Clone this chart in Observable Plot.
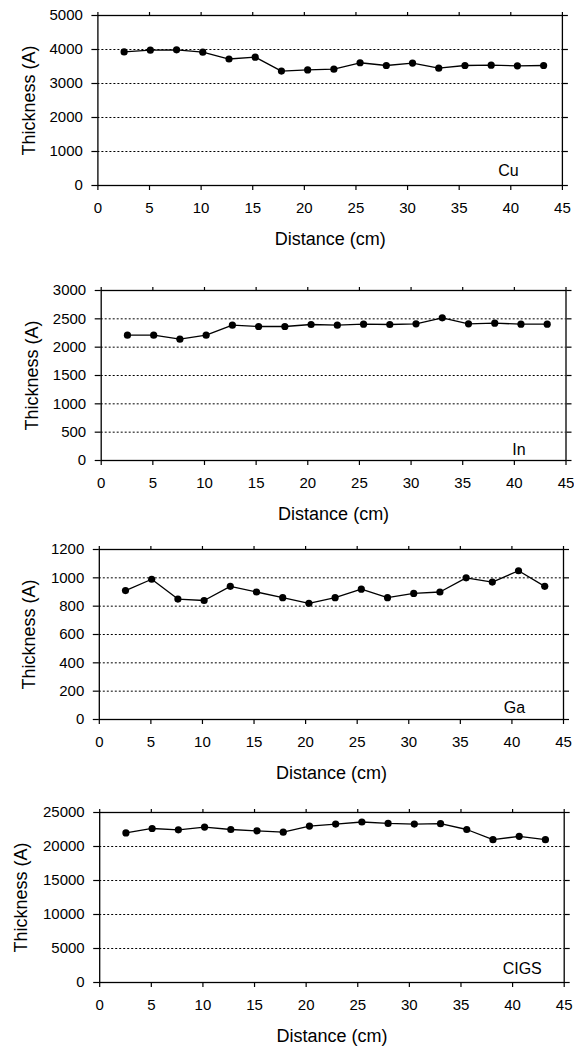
<!DOCTYPE html>
<html>
<head>
<meta charset="utf-8">
<script src="https://cdn.jsdelivr.net/npm/d3@7"></script>
<script src="https://cdn.jsdelivr.net/npm/@observablehq/plot@0.6"></script>
<style>
  html, body { margin: 0; padding: 0; background: #fff; }
  #wrap { position: relative; width: 574px; height: 1047px; }
  #wrap > div, #wrap > svg { position: absolute; left: 0; }
</style>
</head>
<body>
<div id="wrap"></div>
<script>
// Distance along substrate (cm)
const distance = [2.54, 5.08, 7.62, 10.16, 12.70, 15.24, 17.78, 20.32, 22.86, 25.40, 27.94, 30.48, 33.02, 35.56, 38.10, 40.64, 43.18];

// Thickness (A) series
const cu   = [3930, 3980, 3990, 3920, 3720, 3775, 3365, 3400, 3420, 3610, 3530, 3600, 3450, 3530, 3540, 3520, 3530];
const inn  = [2212, 2212, 2141, 2212, 2388, 2365, 2365, 2400, 2388, 2406, 2400, 2412, 2518, 2412, 2424, 2406, 2406];
const ga   = [910, 990, 850, 840, 940, 900, 860, 820, 860, 920, 860, 890, 900, 1000, 970, 1050, 940];
const cigs = [22000, 22650, 22450, 22850, 22500, 22300, 22100, 23000, 23300, 23600, 23400, 23300, 23350, 22500, 21000, 21500, 21000];

// Tick labels
const xTicks = [0, 5, 10, 15, 20, 25, 30, 35, 40, 45];
const cuTicks = [0, 1000, 2000, 3000, 4000, 5000];
const inTicks = [0, 500, 1000, 1500, 2000, 2500, 3000];
const gaTicks = [0, 200, 400, 600, 800, 1000, 1200];
const cigsTicks = [0, 5000, 10000, 15000, 20000, 25000];

const panelNames = ["Cu", "In", "Ga", "CIGS"];
const xTitle = "Distance (cm)";
const yTitle = "Thickness (A)";

const panels = [
  {name: panelNames[0], values: cu,   ticks: cuTicks,   top: 0,     left: 97.4,  right: 561.9, labDx: -54, labDy: -15, yTitleOff: 69},
  {name: panelNames[1], values: inn,  ticks: inTicks,   top: 275,   left: 100.7, right: 565.5, labDx: -47, labDy: -11, yTitleOff: 69},
  {name: panelNames[2], values: ga,   ticks: gaTicks,   top: 534.3, left: 98.8,  right: 563.0, labDx: -49, labDy: -12, yTitleOff: 70},
  {name: panelNames[3], values: cigs, ticks: cigsTicks, top: 797.3, left: 99.2,  right: 563.7, labDx: -42, labDy: -14, yTitleOff: 78}
];

const font = "'Liberation Sans', Arial, Helvetica, sans-serif";
const wrap = document.getElementById("wrap");

for (const p of panels) {
  const data = distance.map((d, i) => ({x: d, y: p.values[i]}));
  const yMax = p.ticks[p.ticks.length - 1];
  const chart = Plot.plot({
    width: 574,
    height: 250,
    marginTop: 15,
    marginBottom: 65,
    marginLeft: p.left,
    marginRight: 574 - p.right,
    style: {fontFamily: font, background: "white", color: "black", overflow: "visible"},
    x: {domain: [0, 45]},
    y: {domain: [0, yMax]},
    marks: [
      Plot.gridY(p.ticks.slice(1, -1), {stroke: "black", strokeOpacity: 1, strokeWidth: 1, strokeDasharray: "2,2"}),
      Plot.frame({stroke: "black", strokeWidth: 1.3}),
      Plot.axisX({anchor: "bottom", ticks: xTicks, tickSize: 5, tickPadding: 12, fontSize: 15, label: null, strokeWidth: 1.2}),
      Plot.axisX({anchor: "top", ticks: xTicks, tickSize: 4, fill: "none", label: null, strokeWidth: 1.2}),
      Plot.axisY({anchor: "left", ticks: p.ticks, tickSize: 6, tickPadding: 9, fontSize: 15, label: null, tickFormat: d => String(d), strokeWidth: 1.2}),
      Plot.axisY({anchor: "right", ticks: p.ticks, tickSize: 5, fill: "none", label: null, strokeWidth: 1.2}),
      Plot.line(data, {x: "x", y: "y", stroke: "black", strokeWidth: 1.3}),
      Plot.dot(data, {x: "x", y: "y", r: 3.6, fill: "black", stroke: "none"}),
      Plot.text([p.name], {frameAnchor: "bottom-right", dx: p.labDx, dy: p.labDy, textAnchor: "middle", lineAnchor: "middle", fontSize: 16, fill: "black"}),
      Plot.text([xTitle], {frameAnchor: "bottom", dy: 54, lineAnchor: "middle", fontSize: 18, fill: "black"}),
      Plot.text([yTitle], {frameAnchor: "left", dx: -p.yTitleOff, rotate: -90, lineAnchor: "middle", textAnchor: "middle", fontSize: 18, fill: "black"})
    ]
  });
  chart.style.position = "absolute";
  chart.style.top = p.top + "px";
  chart.style.left = "0px";
  wrap.appendChild(chart);
}
</script>
</body>
</html>
